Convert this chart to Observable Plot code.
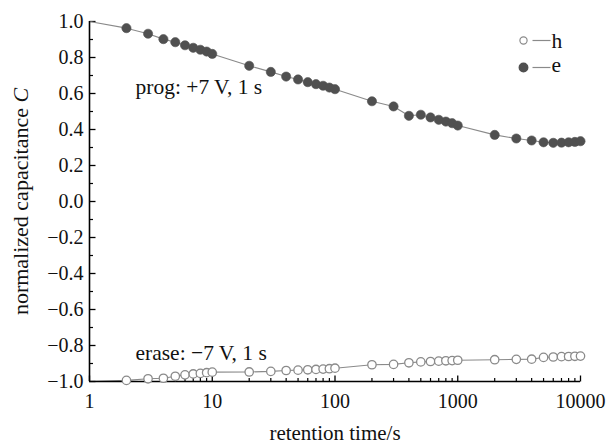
<!DOCTYPE html>
<html>
<head>
<meta charset="utf-8">
<script src="https://cdn.jsdelivr.net/npm/d3@7"></script>
<script src="https://cdn.jsdelivr.net/npm/@observablehq/plot@0.6"></script>
<style>
  html, body { margin: 0; padding: 0; background: #fff; }
  #chart svg { display: block; }
</style>
</head>
<body>
<div id="chart"></div>
<script>
// retention times (s)
const times = [2,3,4,5,6,7,8,9,10,20,30,40,50,60,70,80,90,100,200,300,400,500,600,700,800,900,1000,2000,3000,4000,5000,6000,7000,8000,9000,10000];
// electrons (prog: +7 V, 1 s)
const eValues = [0.963,0.932,0.902,0.885,0.868,0.854,0.843,0.833,0.820,
                 0.754,0.720,0.694,0.678,0.663,0.652,0.643,0.633,0.624,
                 0.557,0.528,0.476,0.482,0.467,0.454,0.444,0.435,0.422,
                 0.370,0.350,0.339,0.329,0.326,0.327,0.329,0.331,0.335];
// holes (erase: -7 V, 1 s)
const hValues = [-0.994,-0.985,-0.982,-0.971,-0.963,-0.958,-0.955,-0.951,-0.948,
                 -0.947,-0.944,-0.939,-0.937,-0.935,-0.933,-0.931,-0.929,-0.926,
                 -0.907,-0.905,-0.896,-0.891,-0.889,-0.887,-0.885,-0.884,-0.882,
                 -0.879,-0.877,-0.876,-0.866,-0.864,-0.862,-0.861,-0.860,-0.859];
// starting point of both curves (t = 1 s)
const startTime = 1;
const eStart = 1.0;
const hStart = -1.0;

const xTicks = [1, 10, 100, 1000, 10000];
const xMinorTicks = [2,3,4,5,6,7,8,9,20,30,40,50,60,70,80,90,200,300,400,500,600,700,800,900,2000,3000,4000,5000,6000,7000,8000,9000];
const yTicks = [-1.0,-0.8,-0.6,-0.4,-0.2,0.0,0.2,0.4,0.6,0.8,1.0];
const yMinorTicks = [-0.9,-0.7,-0.5,-0.3,-0.1,0.1,0.3,0.5,0.7,0.9];
const xDomain = [1, 10000];
const yDomain = [-1, 1];

const xLabel = "retention time/s";
const yLabel = "normalized capacitance ";
const yLabelItalic = "C";
const progLabel = "prog: +7 V, 1 s";
const eraseLabel = "erase: \u22127 V, 1 s";
const legendLabels = ["h", "e"];

const eLine = [{t: startTime, v: eStart}, ...times.map((t, i) => ({t, v: eValues[i]}))];
const hLine = [{t: startTime, v: hStart}, ...times.map((t, i) => ({t, v: hValues[i]}))];
const ePts = times.map((t, i) => ({t, v: eValues[i]}));
const hPts = times.map((t, i) => ({t, v: hValues[i]}));

const font = "'Liberation Serif', 'Times New Roman', serif";
const fmtY = d => (d < 0 ? "\u2212" : "") + Math.abs(d).toFixed(1);

const hTick = len => ({draw(ctx) { ctx.moveTo(0, 0); ctx.lineTo(len, 0); }});
const vTick = len => ({draw(ctx) { ctx.moveTo(0, 0); ctx.lineTo(0, -len); }});
const legendDash = {draw(ctx) { ctx.moveTo(-9, 0); ctx.lineTo(9, 0); }};

const txt = {fill: "#111", lineAnchor: "middle"};

const plot = Plot.plot({
  width: 610,
  height: 445,
  marginLeft: 89,
  marginRight: 30,
  marginTop: 21,
  marginBottom: 64,
  style: {fontFamily: font, fontSize: "20px", background: "#fff", color: "#111"},
  x: {type: "log", domain: xDomain},
  y: {domain: yDomain},
  marks: [
    Plot.axisY({ticks: yTicks, tickSize: 0, tickPadding: 6, tickFormat: fmtY, label: null, fontSize: 20}),
    Plot.axisX({ticks: xTicks, tickSize: 0, tickPadding: 12, tickFormat: d => String(d), label: null, fontSize: 20}),
    // inward ticks
    Plot.dot(yTicks, {x: () => 1, y: d => d, symbol: hTick(6), r: 1, fill: "none", stroke: "#000", strokeWidth: 1.3}),
    Plot.dot(yMinorTicks, {x: () => 1, y: d => d, symbol: hTick(3.5), r: 1, fill: "none", stroke: "#000", strokeWidth: 1.2}),
    Plot.dot(xTicks, {x: d => d, y: () => -1, symbol: vTick(6), r: 1, fill: "none", stroke: "#000", strokeWidth: 1.3}),
    Plot.dot(xMinorTicks, {x: d => d, y: () => -1, symbol: vTick(3.5), r: 1, fill: "none", stroke: "#000", strokeWidth: 1.2}),
    // data lines
    Plot.line(eLine, {x: "t", y: "v", stroke: "#8a8a8a", strokeWidth: 1.1}),
    Plot.line(hLine, {x: "t", y: "v", stroke: "#8a8a8a", strokeWidth: 1.1}),
    // axis lines
    Plot.ruleX([xDomain[0]], {y1: yDomain[0], y2: yDomain[1], stroke: "#000", strokeWidth: 1.6}),
    Plot.ruleY([yDomain[0]], {x1: xDomain[0], x2: xDomain[1], stroke: "#000", strokeWidth: 1.6}),
    // markers
    Plot.dot(hPts, {x: "t", y: "v", r: 4.2, fill: "#fff", stroke: "#8a8a8a", strokeWidth: 1.3}),
    Plot.dot(ePts, {x: "t", y: "v", r: 4.6, fill: "#505050", stroke: "#505050", strokeWidth: 0.6}),
    // annotations
    Plot.text([progLabel], {...txt, text: d => d, frameAnchor: "top-left", dx: 46, dy: 66, textAnchor: "start", fontSize: 21.5}),
    Plot.text([eraseLabel], {...txt, text: d => d, frameAnchor: "bottom-left", dx: 46, dy: -28, textAnchor: "start", fontSize: 21.5}),
    // legend
    Plot.dot([legendLabels[0]], {frameAnchor: "top-right", dx: -57, dy: 19, r: 3.6, fill: "#fff", stroke: "#8a8a8a", strokeWidth: 1.2}),
    Plot.dot([legendLabels[0]], {frameAnchor: "top-right", dx: -39, dy: 19, symbol: legendDash, r: 1, fill: "none", stroke: "#8a8a8a", strokeWidth: 1.2}),
    Plot.text([legendLabels[0]], {...txt, text: d => d, frameAnchor: "top-right", dx: -29, dy: 20, textAnchor: "start", fontSize: 21.5}),
    Plot.dot([legendLabels[1]], {frameAnchor: "top-right", dx: -57, dy: 46, r: 4.2, fill: "#505050", stroke: "#505050"}),
    Plot.dot([legendLabels[1]], {frameAnchor: "top-right", dx: -39, dy: 46, symbol: legendDash, r: 1, fill: "none", stroke: "#8a8a8a", strokeWidth: 1.2}),
    Plot.text([legendLabels[1]], {...txt, text: d => d, frameAnchor: "top-right", dx: -29, dy: 44, textAnchor: "start", fontSize: 21.5}),
    // axis titles
    Plot.text([xLabel], {...txt, text: d => d, frameAnchor: "bottom", dy: 52, textAnchor: "middle", fontSize: 21}),
  ]
});

// y-axis title with italic C
const yTitle = Plot.text([yLabel + yLabelItalic], {...txt, text: d => d, frameAnchor: "left", dx: -69, rotate: -90, textAnchor: "middle", fontSize: 22});
const plot2 = Plot.plot({
  width: 610, height: 445, marginLeft: 89, marginRight: 30, marginTop: 21, marginBottom: 64,
  style: {fontFamily: font, fontSize: "20px", background: "transparent"},
  x: {type: "log", domain: xDomain, axis: null},
  y: {domain: yDomain, axis: null},
  marks: [yTitle]
});
plot2.querySelectorAll("text").forEach(t => {
  const s = t.textContent;
  if (s === yLabel + yLabelItalic) {
    t.textContent = yLabel;
    const ts = document.createElementNS("http://www.w3.org/2000/svg", "tspan");
    ts.setAttribute("font-style", "italic");
    ts.textContent = yLabelItalic;
    t.appendChild(ts);
  }
});
plot2.querySelectorAll("g[aria-label='text']").forEach(n => plot.appendChild(n));
document.getElementById("chart").appendChild(plot);
</script>
</body>
</html>
